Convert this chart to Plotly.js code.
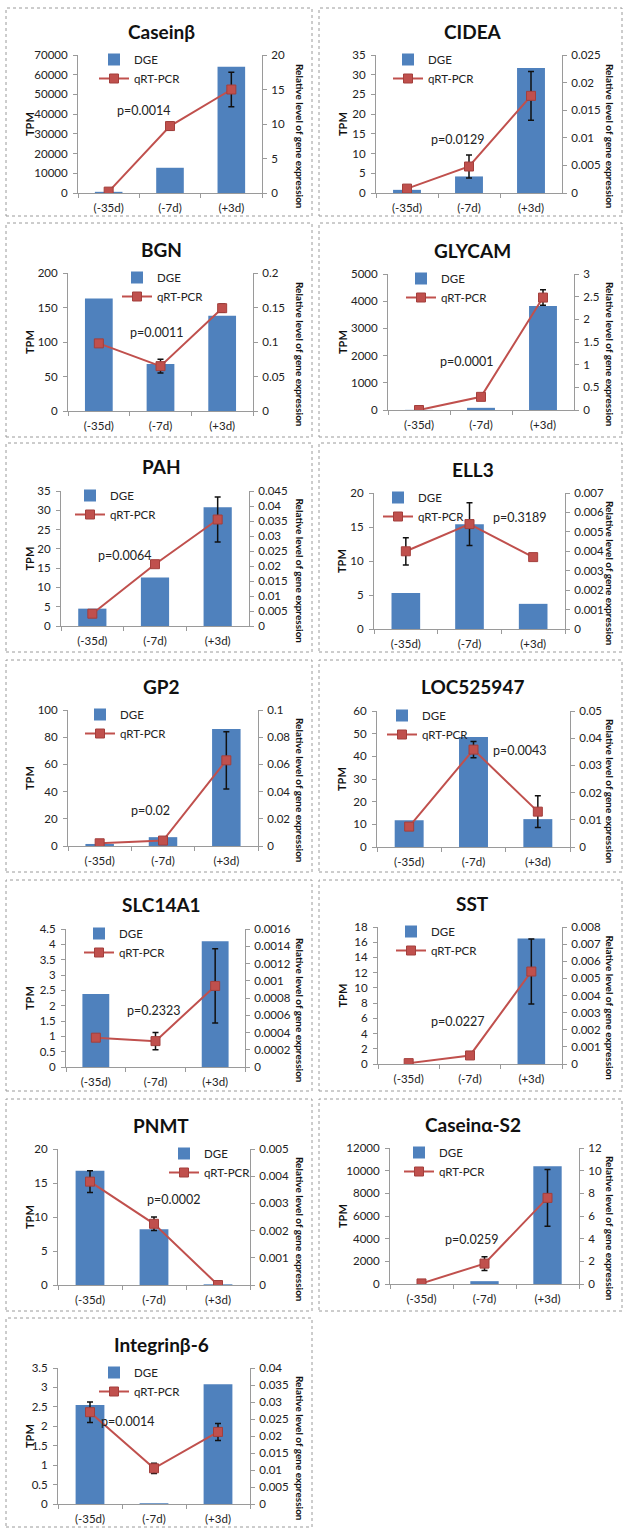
<!DOCTYPE html>
<html><head><meta charset="utf-8">
<script src="https://cdn.plot.ly/plotly-3.0.1.min.js"></script>
<style>body{margin:0;background:#fff}#chart{width:625px;height:1529px}</style>
</head><body><div id="chart"></div>
<script>
// ---------- data ----------
const categories = ['(-35d)', '(-7d)', '(+3d)'];
const genes = ['Caseinβ','CIDEA','BGN','GLYCAM','PAH','ELL3','GP2','LOC525947','SLC14A1','SST','PNMT','Caseinα-S2','Integrinβ-6'];
const dgeTPM = [
  [600, 12800, 64000],
  [0.8, 4.2, 31.7],
  [163, 68, 138],
  [5, 80, 3820],
  [4.5, 12.6, 30.8],
  [5.3, 15.4, 3.7],
  [1.5, 6.5, 86],
  [11.8, 48.5, 12.3],
  [2.38, 0, 4.1],
  [0, 0, 16.5],
  [16.8, 8.2, 0.1],
  [0, 250, 10400],
  [2.55, 0.02, 3.08]
];
const qpcrLevel = [
  [0.2, 9.7, 15.0],
  [0.0008, 0.0048, 0.0176],
  [0.098, 0.065, 0.149],
  [0, 0.29, 2.48],
  [0.0041, 0.0206, 0.0355],
  [0.0040, 0.0054, 0.0037],
  [0.002, 0.004, 0.063],
  [0.0075, 0.0358, 0.013],
  [0.00034, 0.0003, 0.00094],
  [0.00005, 0.0005, 0.0054],
  [0.0038, 0.00225, 0],
  [0.05, 1.8, 7.6],
  [0.027, 0.0105, 0.0212]
];
const qpcrErr = [
  [0, 0.6, 2.5],
  [0, 0.0021, 0.0044],
  [0, 0.01, 0.006],
  [0, 0, 0.17],
  [0, 0, 0.0075],
  [0.0007, 0.0011, 0],
  [0, 0, 0.021],
  [0, 0.003, 0.0058],
  [0, 0.0001, 0.00043],
  [0, 0, 0.0019],
  [0.0004, 0.00025, 0],
  [0, 0.6, 2.5],
  [0.003, 0.0015, 0.0025]
];
const pValues = ['p=0.0014','p=0.0129','p=0.0011','p=0.0001','p=0.0064','p=0.3189','p=0.02','p=0.0043','p=0.2323','p=0.0227','p=0.0002','p=0.0259','p=0.0014'];
const tpmMax  = [70000, 35, 200, 5000, 35, 20, 100, 60, 4.5, 18, 20, 12000, 3.5];
const tpmStep = [10000, 5, 50, 1000, 5, 5, 20, 10, 0.5, 2, 5, 2000, 0.5];
const relMax  = [20, 0.025, 0.2, 3, 0.045, 0.007, 0.1, 0.05, 0.0016, 0.008, 0.005, 12, 0.04];
const relStep = [5, 0.005, 0.05, 0.5, 0.005, 0.001, 0.02, 0.01, 0.0002, 0.001, 0.001, 2, 0.005];
const seriesNames = ['DGE', 'qRT-PCR'];
const leftTitle = 'TPM';
const rightTitle = 'Relative level of gene expression';

// ---------- layout geometry (pixels) ----------
const W = 625, H = 1529;
// plot area [left, right, top, bottom]
const plotBox = [
  [78,262,55,193],[376,562,55,193],
  [68,253,273,411],[388,574,274,410],
  [61,249,491,626],[374,565,493,629],
  [68,258,710,846],[377,570,711,847],
  [66,245,929,1067],[378,562,927,1064],
  [58,250,1149,1285],[390,579,1148,1284],
  [58,250,1368,1504]
];
const frameCols = [[6,312],[319,622]];
const frameRows = [[8,216],[223,437],[443,652],[660,872],[880,1091],[1099,1311],[1318,1527]];
// legend text start x per panel
const legendTextX = [122,416,145,429,98,406,108,410,107,419,192,427,122];
// p-value label position: [category position, fraction of plot height]
const pPos = [[0.57,0.6],[0.82,0.39],[0.93,0.57],[0.76,0.36],[0.52,0.52],[1.79,0.82],[0.81,0.26],[1.72,0.71],[0.96,0.41],[0.79,0.31],[1.3,0.63],[0.79,0.33],[0.59,0.61]];

const FONT = 'Lato, "Open Sans", sans-serif';
const px = x => x / W;
const py = y => 1 - y / H;

const data = [];
const layout = {
  width: W, height: H,
  margin: {l:0, r:0, t:0, b:0},
  paper_bgcolor: '#fff', plot_bgcolor: 'rgba(0,0,0,0)',
  font: {family: FONT, size: 11.5, color: '#222'},
  showlegend: true,
  annotations: [], shapes: []
};

genes.forEach((g, i) => {
  const k = i + 1;
  const xs = k === 1 ? '' : String(k);
  const yl = 2 * i + 1, yr = 2 * i + 2;
  const yls = yl === 1 ? '' : String(yl);
  const yrs = String(yr);
  const [x0, x1, yt, yb] = plotBox[i];
  const col = i % 2, row = Math.floor(i / 2);
  const legName = k === 1 ? 'legend' : 'legend' + k;

  data.push({
    type: 'bar', name: seriesNames[0], x: categories, y: dgeTPM[i],
    xaxis: 'x' + xs, yaxis: 'y' + yls, width: 0.45,
    marker: {color: '#4F81BD', line: {width: 0}},
    legend: legName, hoverinfo: 'y'
  });
  data.push({
    type: 'scatter', mode: 'lines+markers', name: seriesNames[1], x: categories, y: qpcrLevel[i],
    xaxis: 'x' + xs, yaxis: 'y' + yrs,
    line: {color: '#C0504D', width: 2},
    marker: {symbol: 'square', size: 9, color: '#C0504D', line: {color: '#A33F3C', width: 1}},
    error_y: {type: 'data', array: qpcrErr[i], visible: true, color: '#111', thickness: 1.5, width: 3},
    legend: legName, hoverinfo: 'y'
  });

  layout['xaxis' + xs] = {
    domain: [px(x0), px(x1)], anchor: 'y' + yls, type: 'category',
    range: [-0.5, 2.5], showline: true, linecolor: '#9a9a9a', linewidth: 1,
    ticks: 'outside', tickson: 'boundaries', ticklen: 4, tickcolor: '#9a9a9a', ticklabelstandoff: 4,
    showgrid: false, zeroline: false, fixedrange: true,
    tickfont: {family: FONT, size: 11.5, color: '#222'}
  };
  layout['yaxis' + yls] = {
    domain: [py(yb), py(yt)], anchor: 'x' + xs, range: [0, tpmMax[i]], dtick: tpmStep[i], tick0: 0,
    showline: true, linecolor: '#9a9a9a', linewidth: 1, ticks: 'outside', ticklen: 4, tickcolor: '#9a9a9a',
    ticklabelstandoff: 3,
    showgrid: false, zeroline: false, tickformat: '~g',
    tickfont: {family: FONT, size: 11.5, color: '#222'}, fixedrange: true
  };
  layout['yaxis' + yrs] = {
    overlaying: 'y' + yls, side: 'right', anchor: 'x' + xs, range: [0, relMax[i]], dtick: relStep[i], tick0: 0,
    showline: true, linecolor: '#9a9a9a', linewidth: 1, ticks: 'outside', ticklen: 4, tickcolor: '#9a9a9a',
    ticklabelstandoff: 2,
    showgrid: false, zeroline: false, tickformat: '~g',
    tickfont: {family: FONT, size: 11.5, color: '#222'}, fixedrange: true
  };
  layout[legName] = {
    x: px(legendTextX[i] - 28), y: py(yt - 10), xanchor: 'left', yanchor: 'top',
    bgcolor: 'rgba(0,0,0,0)', borderwidth: 0, tracegroupgap: 0, itemwidth: 30,
    font: {family: FONT, size: 11.5, color: '#222'}
  };

  const colCenter = (frameCols[col][0] + frameCols[col][1]) / 2 + 2;
  layout.annotations.push({
    text: '<b>' + g + '</b>', xref: 'paper', yref: 'paper', x: px(colCenter), y: py(yt - 24),
    xanchor: 'center', yanchor: 'middle', showarrow: false, font: {family: FONT, size: 19, color: '#111'}
  });
  layout.annotations.push({
    text: '<b>' + leftTitle + '</b>', xref: 'paper', yref: 'paper', x: px(frameCols[col][0] + 23), y: py((yt + yb) / 2),
    xanchor: 'center', yanchor: 'middle', textangle: -90, showarrow: false, font: {family: FONT, size: 11, color: '#111'}
  });
  layout.annotations.push({
    text: '<b>' + rightTitle + '</b>', xref: 'paper', yref: 'paper', x: px(frameCols[col][1] - 12), y: py((yt + yb) / 2 + 12),
    xanchor: 'center', yanchor: 'middle', textangle: 90, showarrow: false, font: {family: FONT, size: 10, color: '#111'}
  });
  layout.annotations.push({
    text: pValues[i], xref: 'x' + xs, yref: 'y' + yls + ' domain', x: pPos[i][0], y: pPos[i][1],
    xanchor: 'center', yanchor: 'middle', showarrow: false, font: {family: FONT, size: 12.5, color: '#222'}
  });
  layout.shapes.push({
    type: 'rect', xref: 'paper', yref: 'paper',
    x0: px(frameCols[col][0]), x1: px(frameCols[col][1]), y0: py(frameRows[row][1]), y1: py(frameRows[row][0]),
    line: {color: '#9a9a9a', width: 1, dash: 'dot'}, fillcolor: 'rgba(0,0,0,0)'
  });
});

Plotly.newPlot('chart', data, layout, {displayModeBar: false, staticPlot: true});
</script>
</body></html>
